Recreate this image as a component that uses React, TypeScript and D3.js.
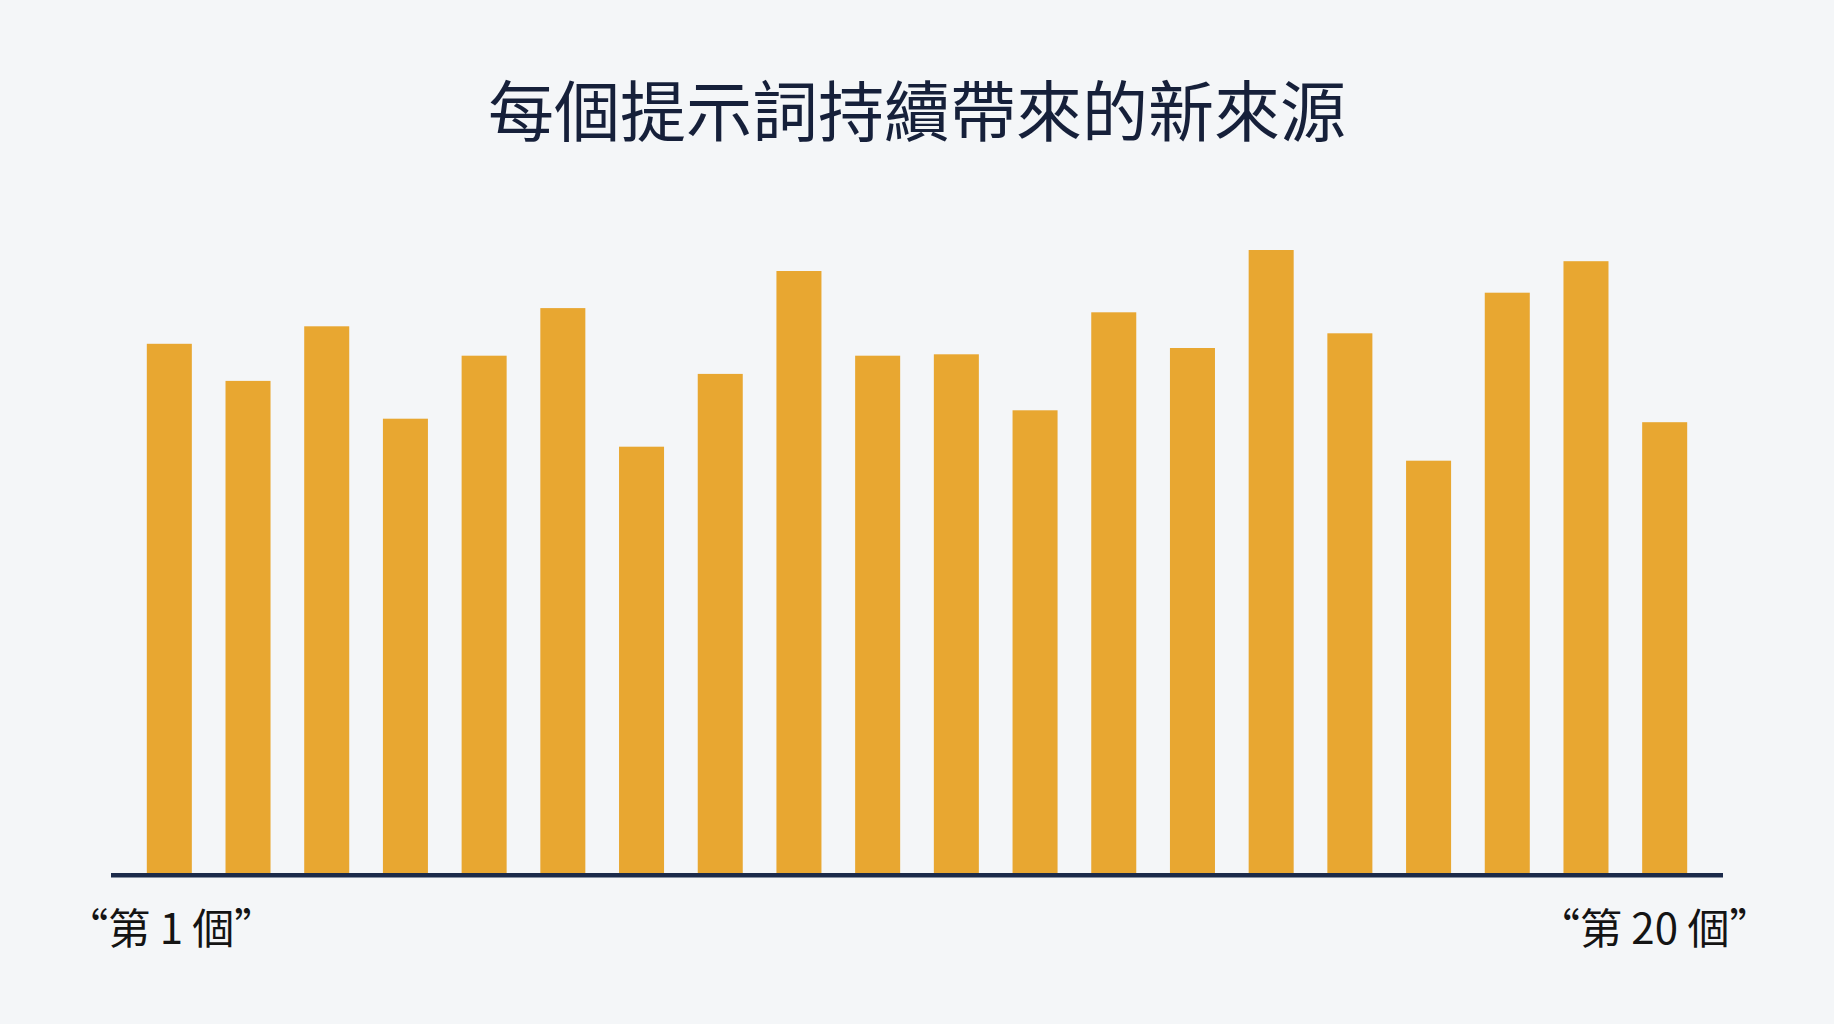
import { useEffect, useRef } from 'react';
import * as d3 from 'd3';

const WIDTH = 1834;
const HEIGHT = 1024;

const titleText = '每個提示詞持續帶來的新來源';
const promptIds = d3.range(1, 21).map((index) => `第 ${index} 個`);
const newSources = [
    75.6, 70.3, 78.1, 64.9, 73.9, 80.7, 60.9, 71.3, 86.0, 73.9,
    74.1, 66.1, 80.1, 75.0, 89.0, 77.1, 58.9, 82.9, 87.4, 64.4,
];
const edgeLabels = ['“第 1 個”', '“第 20 個”'];

const FONT = '"Noto Sans CJK TC", "Noto Sans", sans-serif';

export default function App() {
    const svgRef = useRef<SVGSVGElement | null>(null);

    useEffect(() => {
        document.body.style.margin = '0';
        document.body.style.background = '#f4f6f8';
        if (!svgRef.current) {
            return;
        }

        const svg = d3.select(svgRef.current);
        svg.selectAll('*').remove();

        const x = d3.scaleBand<string>().domain(promptIds).range([111, 1723]).paddingInner(0.428).paddingOuter(0.455);
        const y = d3.scaleLinear().domain([0, 100]).range([873, 173]);

        svg.append('rect').attr('width', WIDTH).attr('height', HEIGHT).attr('fill', '#f4f6f8');

        svg.append('text')
            .text(titleText)
            .attr('x', WIDTH / 2)
            .attr('y', 136)
            .attr('text-anchor', 'middle')
            .attr('font-family', FONT)
            .attr('font-size', 66)
            .attr('font-weight', 400)
            .attr('fill', '#16203a');

        svg.append('g')
            .selectAll('rect')
            .data(newSources)
            .join('rect')
            .attr('x', (_, index) => x(promptIds[index]) ?? 0)
            .attr('y', (value) => y(value))
            .attr('width', x.bandwidth())
            .attr('height', (value) => y(0) - y(value))
            .attr('fill', '#e8a731');

        // baseline
        svg.append('line')
            .attr('x1', 111)
            .attr('x2', 1723)
            .attr('y1', y(0) + 2.25)
            .attr('y2', y(0) + 2.25)
            .attr('stroke', '#1b2a4a')
            .attr('stroke-width', 4.5);

        const edgeIds = [promptIds[0], promptIds[promptIds.length - 1]];
        svg.append('g')
            .selectAll('text')
            .data(edgeLabels)
            .join('text')
            .text((label) => label)
            .attr('x', (_, index) => (x(edgeIds[index]) ?? 0) + x.bandwidth() / 2 + (index === 0 ? 2 : -10))
            .attr('y', 944)
            .attr('text-anchor', 'middle')
            .attr('font-family', FONT)
            .attr('font-size', 42)
            .attr('fill', '#141414');
    }, []);

    return <svg ref={svgRef} width={WIDTH} height={HEIGHT} style={{ display: 'block' }} />;
}
